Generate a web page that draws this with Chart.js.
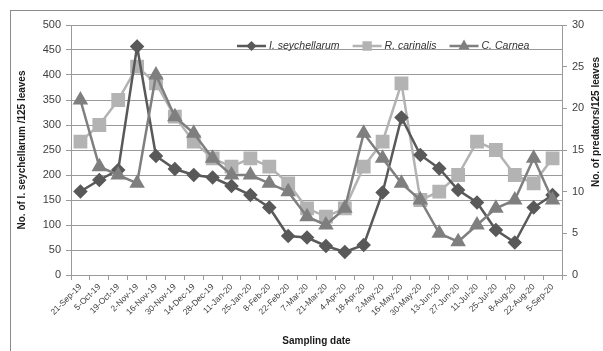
<!DOCTYPE html>
<html><head><meta charset="utf-8">
<script src="https://cdn.jsdelivr.net/npm/chart.js@4.4.1/dist/chart.umd.min.js"></script>
<style>html,body{margin:0;padding:0;background:#fff;overflow:hidden}</style>
</head><body>
<canvas id="c" width="603" height="351"></canvas>
<script>
const categories = ["21-Sep-19","5-Oct-19","19-Oct-19","2-Nov-19","16-Nov-19","30-Nov-19","14-Dec-19","28-Dec-19","11-Jan-20","25-Jan-20","8-Feb-20","22-Feb-20","7-Mar-20","21-Mar-20","4-Apr-20","18-Apr-20","2-May-20","16-May-20","30-May-20","13-Jun-20","27-Jun-20","11-Jul-20","25-Jul-20","8-Aug-20","22-Aug-20","5-Sep-20"];
const seychellarum = [167,190,210,457,238,212,200,195,178,160,135,78,75,58,46,60,165,315,240,213,170,145,90,65,135,160];
const carinalis = [16,18,21,25,23,19,16,14,13,14,13,11,8,7,8,13,16,23,9,10,12,16,15,12,11,14];
const carnea = [21,13,12,11,24,19,17,14,12,12,11,10,7,6,8,17,14,11,9,5,4,6,8,9,14,9];
const leftTicks = [0,50,100,150,200,250,300,350,400,450,500];
const rightTicks = [0,5,10,15,20,25,30];
const seriesNames = ["I. seychellarum","R. carinalis","C. Carnea"];
const leftTitle = "No. of I. seychellarum /125 leaves";
const rightTitle = "No. of predators/125 leaves";
const xTitle = "Sampling date";

const FONT = "'Liberation Sans', Arial, sans-serif";
const TXT = '#404040';
const GRID = '#9a9a9a';

const frame = {
  id: 'frame',
  beforeDraw(chart) {
    const ctx = chart.ctx;
    ctx.save();
    ctx.strokeStyle = '#8c8c8c';
    ctx.lineWidth = 1;
    ctx.strokeRect(10.5, 10.5, 620, 360);
    ctx.restore();
  },
  afterDraw(chart) {
    const ctx = chart.ctx;
    const ca = chart.chartArea;
    // right axis title (reads bottom to top)
    ctx.save();
    ctx.font = "bold 10px " + FONT;
    ctx.fillStyle = '#1a1a1a';
    ctx.textAlign = 'center';
    ctx.textBaseline = 'middle';
    ctx.translate(596, ca.top + 97);
    ctx.rotate(-Math.PI / 2);
    ctx.fillText(rightTitle, 0, 0);
    ctx.restore();
    // legend
    ctx.save();
    let x = ca.left + 166;
    const y = ca.top + 21;
    ctx.font = "italic 10.5px " + FONT;
    ctx.textBaseline = 'middle';
    chart.data.datasets.forEach((ds, i) => {
      ctx.strokeStyle = ds.borderColor;
      ctx.lineWidth = 2.5;
      ctx.beginPath();
      ctx.moveTo(x, y); ctx.lineTo(x + 29, y); ctx.stroke();
      ctx.fillStyle = ds.pointBackgroundColor;
      ctx.strokeStyle = ds.pointBackgroundColor;
      Chart.helpers.drawPoint(ctx, {pointStyle: ds.pointStyle, radius: ds.pointRadius * 0.6, borderWidth: 1}, x + 14.5, y);
      ctx.fillStyle = '#333';
      ctx.fillText(ds.label, x + 32, y);
      x += 32 + ctx.measureText(ds.label).width + 13;
    });
    ctx.restore();
  }
};

new Chart(document.getElementById('c'), {
  type: 'line',
  data: {
    labels: categories,
    datasets: [
      { label: seriesNames[0], data: seychellarum, yAxisID: 'y', borderColor: '#595959', backgroundColor: '#595959',
        pointBackgroundColor: '#595959', pointBorderColor: '#595959', pointStyle: 'rectRot', pointRadius: 5.5, borderWidth: 2.5, order: 2 },
      { label: seriesNames[1], data: carinalis, yAxisID: 'y1', borderColor: '#b3b3b3', backgroundColor: '#b3b3b3',
        pointBackgroundColor: '#b3b3b3', pointBorderColor: '#b3b3b3', pointStyle: 'rect', pointRadius: 8, borderWidth: 2.5, order: 3 },
      { label: seriesNames[2], data: carnea, yAxisID: 'y1', borderColor: '#7f7f7f', backgroundColor: '#7f7f7f',
        pointBackgroundColor: '#7f7f7f', pointBorderColor: '#7f7f7f', pointStyle: 'triangle', pointRadius: 6.5, borderWidth: 2.5, order: 1 }
    ]
  },
  options: {
    responsive: false,
    animation: false,
    devicePixelRatio: 1,
    layout: { padding: { left: 0, right: 0, top: 25, bottom: 0 } },
    plugins: { legend: { display: false }, tooltip: { enabled: false } },
    elements: { line: { tension: 0 } },
    scales: {
      x: {
        type: 'category',
        offset: true,
        grid: { offset: true, drawOnChartArea: false, color: GRID, tickLength: 5 },
        border: { color: GRID },
        ticks: { autoSkip: false, minRotation: 45, maxRotation: 45, color: TXT, padding: 2, font: { family: FONT, size: 8.5 } },
        title: { display: true, text: xTitle, color: '#1a1a1a', font: { family: FONT, size: 10, weight: 'bold' }, padding: { top: 4, bottom: 4 } },
        afterFit: s => { s.height = 76; }
      },
      y: {
        position: 'left',
        min: 0, max: 500,
        afterBuildTicks: s => { s.ticks = leftTicks.map(v => ({ value: v })); },
        grid: { color: GRID, tickLength: 5 },
        border: { color: GRID },
        ticks: { color: TXT, padding: 5, font: { family: FONT, size: 11 } },
        title: { display: true, text: leftTitle, color: '#1a1a1a', font: { family: FONT, size: 10, weight: 'bold' }, padding: { top: 16, bottom: 0 } },
        afterFit: s => { s.width = 71; }
      },
      y1: {
        position: 'right',
        min: 0, max: 30,
        afterBuildTicks: s => { s.ticks = rightTicks.map(v => ({ value: v })); },
        grid: { drawOnChartArea: false, color: GRID, tickLength: 5 },
        border: { color: GRID },
        ticks: { color: TXT, padding: 5, font: { family: FONT, size: 11 } },
        afterFit: s => { s.width = 41; }
      }
    }
  },
  plugins: [frame]
});
</script>
</body></html>
